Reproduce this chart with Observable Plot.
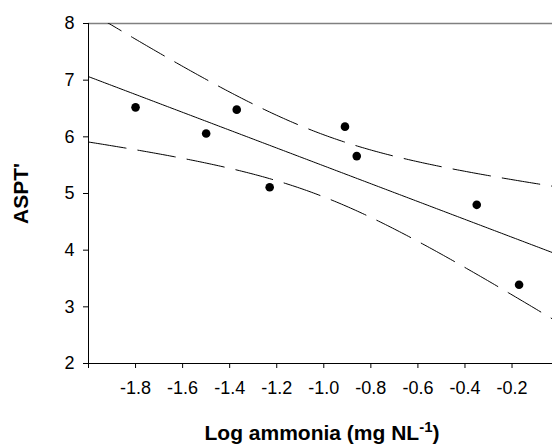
<!DOCTYPE html>
<html><head><meta charset="utf-8">
<script src="https://cdn.jsdelivr.net/npm/d3@7"></script>
<script src="https://cdn.jsdelivr.net/npm/@observablehq/plot@0.6"></script>
<style>html,body{margin:0;padding:0;background:#fff;overflow:hidden} svg{display:block}</style>
</head><body><div id="chart"></div>
<script>
// Data
const logAmmonia = [-1.80, -1.50, -1.37, -1.23, -0.91, -0.86, -0.35, -0.17];
const aspt       = [6.52, 6.06, 6.48, 5.11, 6.18, 5.66, 4.80, 3.39];
const xTicks = [-2.0, -1.8, -1.6, -1.4, -1.2, -1.0, -0.8, -0.6, -0.4, -0.2];
const yTicks = [2, 3, 4, 5, 6, 7, 8];
const xDomain = [-2.0, -0.028];
const yDomain = [2, 8];
const yLabel = "ASPT'";
const xLabelMain = "Log ammonia (mg NL";
const xLabelSup = "-1";
const xLabelEnd = ")";

const pts = logAmmonia.map((x, i) => ({x, y: aspt[i]}));

// Least-squares fit with 95% confidence interval of the mean
const n = pts.length;
const mx = d3.mean(logAmmonia), my = d3.mean(aspt);
const sxx = d3.sum(logAmmonia, x => (x - mx) ** 2);
const sxy = d3.sum(pts, d => (d.x - mx) * (d.y - my));
const b = sxy / sxx, a = my - b * mx;
const sse = d3.sum(pts, d => (d.y - (a + b * d.x)) ** 2);
const s = Math.sqrt(sse / (n - 2));
const tCrit = 2.447; // t(0.975, df = 6)
const fit = d3.range(0, 201).map(i => {
  const x = xDomain[0] + (xDomain[1] - xDomain[0]) * i / 200;
  const yh = a + b * x;
  const h = tCrit * s * Math.sqrt(1 / n + (x - mx) ** 2 / sxx);
  return {x, yh, lo: yh - h, hi: yh + h};
});

const font = "'Liberation Sans', Arial, Helvetica, sans-serif";

const plot = Plot.plot({
  width: 552, height: 444,
  marginLeft: 88, marginRight: 0, marginTop: 23, marginBottom: 81,
  x: {domain: xDomain},
  y: {domain: yDomain},
  style: {fontFamily: font, background: "white", color: "black"},
  marks: [
    Plot.ruleY([8], {stroke: "#808080", strokeWidth: 1.5}),
    Plot.line(fit, {x: "x", y: "hi", stroke: "black", strokeWidth: 1, strokeDasharray: "38,12", clip: true}),
    Plot.line(fit, {x: "x", y: "lo", stroke: "black", strokeWidth: 1, strokeDasharray: "38,12", clip: true}),
    Plot.line(fit, {x: "x", y: "yh", stroke: "black", strokeWidth: 1, clip: true}),
    Plot.dot(pts, {x: "x", y: "y", r: 4.3, fill: "black", stroke: "none"}),
    Plot.axisY({ticks: yTicks, tickSize: 5, tickPadding: 9, fontSize: 18, label: null, tickFormat: d => String(d)}),
    Plot.axisX({ticks: xTicks, tickSize: 5, tickPadding: 13, fontSize: 18, label: null,
      tickFormat: d => d <= -1.999 ? "" : d.toFixed(1)}),
    Plot.ruleX([xDomain[0]], {stroke: "black", strokeWidth: 1}),
    Plot.ruleY([yDomain[0]], {stroke: "black", strokeWidth: 1}),
    Plot.text([yLabel], {frameAnchor: "left", dx: -67, rotate: -90, textAnchor: "middle",
      lineAnchor: "middle", fontSize: 21, fontWeight: "bold"})
  ]
});

const lab = d3.select(plot).append("text")
  .attr("x", 322).attr("y", 440)
  .attr("text-anchor", "middle")
  .attr("font-family", font)
  .attr("font-weight", "bold")
  .attr("font-size", 21)
  .attr("fill", "black");
lab.append("tspan").text(xLabelMain);
lab.append("tspan").attr("font-size", 15).attr("dy", -8).text(xLabelSup);
lab.append("tspan").attr("dy", 8).text(xLabelEnd);

document.getElementById("chart").appendChild(plot);
</script>
</body></html>
